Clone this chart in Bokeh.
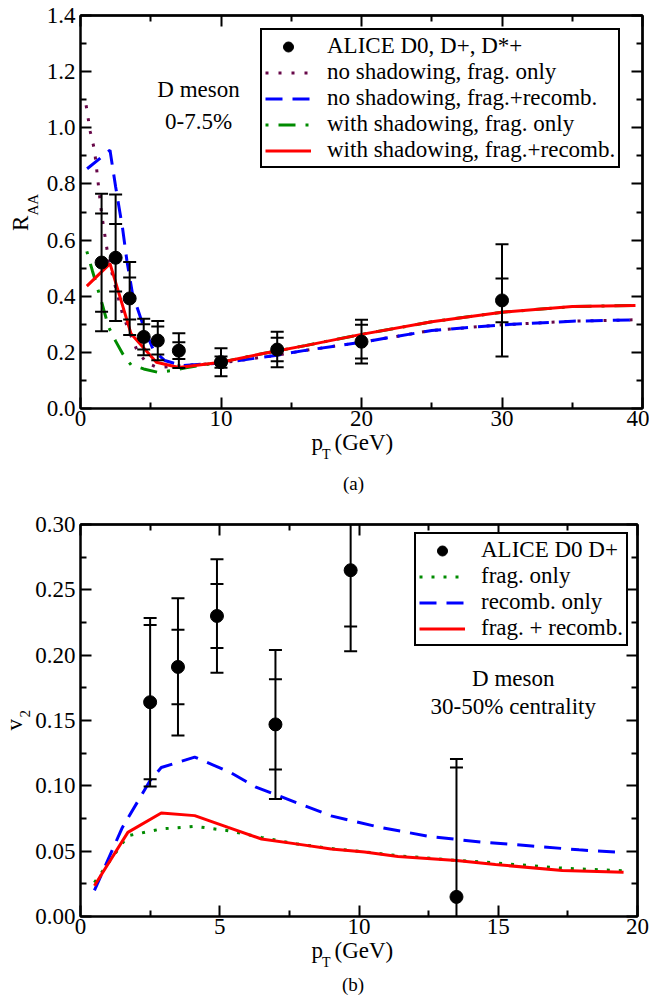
import numpy as np
from bokeh.plotting import figure
from bokeh.layouts import column
from bokeh.models import (Label, Legend, LegendItem, LinearAxis, FixedTicker, Title,
                          PrintfTickFormatter, Range1d)
from bokeh.embed import file_html
from bokeh.resources import INLINE

FONT = "Liberation Serif"

# ---------------- panel (a): R_AA ----------------
raa_pt = [1.5, 2.5, 3.5, 4.5, 5.5, 7.0, 10.0, 14.0, 20.0, 30.0]
raa = [0.52, 0.537, 0.392, 0.255, 0.242, 0.206, 0.165, 0.21, 0.238, 0.385]
raa_stat = [0.175, 0.12, 0.075, 0.045, 0.05, 0.03, 0.02, 0.042, 0.06, 0.078]
raa_tot = [0.245, 0.225, 0.13, 0.065, 0.07, 0.062, 0.05, 0.063, 0.078, 0.2]

noshad_frag_pt = [0.4, 0.7, 1.0, 1.5, 2.0, 2.5, 3.0, 3.5, 4.0, 4.7, 5.5, 7.0, 10, 14, 16, 20, 25, 30, 35, 39.5]
noshad_frag = [1.08, 0.985, 0.92, 0.694, 0.53, 0.43, 0.335, 0.27, 0.21, 0.162, 0.146, 0.152, 0.162, 0.19, 0.207, 0.236, 0.278, 0.298, 0.311, 0.316]

noshad_rec_pt = [0.47, 2.1, 2.5, 3.0, 3.3, 3.7, 4.5, 5.2, 6.0, 7.2, 10, 14, 16, 20, 25, 30, 35, 39.5]
noshad_rec = [0.854, 0.92, 0.79, 0.64, 0.527, 0.409, 0.29, 0.207, 0.171, 0.153, 0.162, 0.19, 0.207, 0.236, 0.278, 0.298, 0.311, 0.316]

shad_frag_pt = [0.45, 0.85, 1.5, 2.0, 2.5, 3.0, 3.6, 4.5, 5.5, 6.5, 7.5, 10, 13, 16, 20, 25, 30, 35, 39.5]
shad_frag = [0.56, 0.49, 0.38, 0.29, 0.24, 0.195, 0.155, 0.141, 0.129, 0.135, 0.145, 0.165, 0.196, 0.224, 0.264, 0.309, 0.343, 0.363, 0.367]

shad_rec_pt = [0.45, 2.1, 3.6, 5.4, 7.0, 10, 13, 16, 20, 25, 30, 35, 39.5]
shad_rec = [0.436, 0.516, 0.266, 0.165, 0.146, 0.165, 0.196, 0.224, 0.264, 0.309, 0.343, 0.363, 0.367]

a_xticks = [0, 10, 20, 30, 40]
a_xminor = [5, 15, 25, 35]
a_yticks = [0.0, 0.2, 0.4, 0.6, 0.8, 1.0, 1.2, 1.4]
a_yminor = [0.1, 0.3, 0.5, 0.7, 0.9, 1.1, 1.3]

# ---------------- panel (b): v2 ----------------
v2_pt = [2.5, 3.5, 4.9, 7.0, 9.7, 13.5]
v2 = [0.164, 0.191, 0.230, 0.147, 0.265, 0.015]
v2_stat = [0.059, 0.0285, 0.0245, 0.0345, 0.043, 0.099]
v2_tot = [0.0645, 0.0525, 0.0435, 0.057, 0.062, 0.1055]

frag_pt = [0.5, 1.7, 2.9, 4.1, 5.3, 6.5, 7.8, 9.0, 10.2, 11.4, 13.5, 14.9, 17.3, 19.5]
frag_v2 = [0.026, 0.0618, 0.067, 0.069, 0.0657, 0.0605, 0.0554, 0.052, 0.0495, 0.0465, 0.043, 0.041, 0.037, 0.035]

recomb_pt = [0.5, 1.5, 2.5, 2.9, 4.1, 5.4, 6.3, 7.1, 9.0, 10.8, 12.6, 14.4, 16.2, 17.9, 19.5]
recomb_v2 = [0.020, 0.068, 0.104, 0.114, 0.122, 0.110, 0.099, 0.0925, 0.077, 0.068, 0.061, 0.057, 0.054, 0.051, 0.049]

both_pt = [0.5, 1.7, 2.9, 4.1, 5.3, 6.5, 7.8, 9.0, 10.2, 11.4, 13.5, 14.9, 17.3, 19.5]
both_v2 = [0.0235, 0.0644, 0.0792, 0.0772, 0.0682, 0.0593, 0.0554, 0.0516, 0.0493, 0.046, 0.0429, 0.0398, 0.0352, 0.0339]

b_xticks = [0, 5, 10, 15, 20]
b_xminor = [2.5, 7.5, 12.5, 17.5]
b_yticks = [0.0, 0.05, 0.10, 0.15, 0.20, 0.25, 0.30]
b_yminor = [0.025, 0.075, 0.125, 0.175, 0.225, 0.275]

MAROON = "#670748"
GREEN = "#008b00"
BLUE = "#0000ff"
RED = "#ff0000"


def style_axis(ax, tick_len_major=11, tick_len_minor=6):
    ax.major_tick_in = tick_len_major
    ax.major_tick_out = 0
    ax.minor_tick_in = tick_len_minor
    ax.minor_tick_out = 0
    ax.axis_line_width = 2
    ax.axis_line_color = "black"
    ax.major_tick_line_width = 2
    ax.minor_tick_line_width = 2
    ax.major_tick_line_color = "black"
    ax.minor_tick_line_color = "black"
    ax.major_label_text_font = FONT
    ax.major_label_text_font_size = "23px"
    ax.major_label_text_color = "black"


def setup_axes(p, xt, xm, yt, ym, xfmt, yfmt):
    bottom = p.below[0]
    left = p.left[0]
    bottom.ticker = FixedTicker(ticks=xt, minor_ticks=xm)
    left.ticker = FixedTicker(ticks=yt, minor_ticks=ym)
    bottom.formatter = PrintfTickFormatter(format=xfmt)
    left.formatter = PrintfTickFormatter(format=yfmt)
    style_axis(bottom)
    style_axis(left)
    bottom.major_label_standoff = 2
    left.major_label_standoff = 5
    # mirror ticks (top / right) without labels
    for side, ticks in (("above", xt), ("right", yt)):
        ax = LinearAxis(ticker=FixedTicker(ticks=[], minor_ticks=ticks))
        style_axis(ax, 0, 11)
        ax.major_label_standoff = 0
        ax.axis_label_standoff = 0
        p.add_layout(ax, side)
    for side, ticks in (("above", xm), ("right", ym)):
        ax = LinearAxis(ticker=FixedTicker(ticks=[], minor_ticks=ticks))
        style_axis(ax, 0, 6)
        ax.major_label_standoff = 0
        ax.axis_label_standoff = 0
        p.add_layout(ax, side)
    p.xgrid.visible = False
    p.ygrid.visible = False
    p.outline_line_color = "black"
    p.outline_line_width = 2


def error_bars(p, x, y, stat, tot):
    x = np.array(x, dtype=float)
    y = np.array(y, dtype=float)
    stat = np.array(stat, dtype=float)
    tot = np.array(tot, dtype=float)
    p.segment(x0=x, y0=y - tot, x1=x, y1=y + tot, line_color="black", line_width=2)
    for yy in [y - tot, y + tot, y - stat, y + stat]:
        p.scatter(x=x, y=yy, marker="dash", size=13, line_color="black", line_width=2)
    return p.scatter(x=x, y=y, marker="circle", size=13, fill_color="black", line_color="black")


def text(p, x, y, s, size="23px"):
    p.add_layout(Label(x=x, y=y, text=s, text_font=FONT, text_font_size=size, text_color="black",
                       text_align="center", text_baseline="middle"))


def side_title(p, s, side, size, offset, standoff):
    p.add_layout(Title(text=s, text_font=FONT, text_font_size=size, text_font_style="normal",
                       text_color="black", align="left", vertical_align="bottom",
                       offset=offset, standoff=standoff), side)


def make_legend(p, items, loc):
    lg = Legend(items=items, location=loc, margin=0, padding=3, spacing=0,
                glyph_width=46, glyph_height=25, label_height=25, label_standoff=16,
                label_text_font=FONT, label_text_font_size="23px", label_text_color="black",
                border_line_color="black", border_line_width=2, border_line_alpha=1.0,
                background_fill_color="white", background_fill_alpha=1.0)
    p.add_layout(lg)


# ---------------- figure (a) ----------------
p1 = figure(frame_width=562, frame_height=393, min_border_left=75, min_border_right=12,
            min_border_top=15, min_border_bottom=103, x_range=Range1d(0, 40), y_range=Range1d(0, 1.4),
            output_backend="svg", toolbar_location=None, background_fill_color="white",
            border_fill_color="white")
setup_axes(p1, a_xticks, a_xminor, a_yticks, a_yminor, "%d", "%.1f")

r_a1 = p1.line(noshad_frag_pt, noshad_frag, line_color=MAROON, line_width=3, line_dash="3 10")
r_a2 = p1.line(noshad_rec_pt, noshad_rec, line_color=BLUE, line_width=3, line_dash="17 10")
r_a3 = p1.line(shad_frag_pt, shad_frag, line_color=GREEN, line_width=3, line_dash="3 10 17 10")
r_a4 = p1.line(shad_rec_pt, shad_rec, line_color=RED, line_width=3)
pts1 = error_bars(p1, raa_pt, raa, raa_stat, raa_tot)

make_legend(p1, [
    LegendItem(label="ALICE D0, D+, D*+", renderers=[pts1]),
    LegendItem(label="no shadowing, frag. only", renderers=[r_a1]),
    LegendItem(label="no shadowing, frag.+recomb.", renderers=[r_a2]),
    LegendItem(label="with shadowing, frag. only", renderers=[r_a3]),
    LegendItem(label="with shadowing, frag.+recomb.", renderers=[r_a4]),
], (180, 240))

text(p1, 8.4, 1.136, "D meson")
text(p1, 8.4, 1.022, "0-7.5%")
# y label R_AA (subscript closer to the frame)
side_title(p1, "AA", "left", "15px", 193, 5.6)
side_title(p1, "R", "left", "23px", 177.5, -26.4)
# x label p_T (GeV) and caption
side_title(p1, "p\u00a0\u00a0(GeV)", "below", "23px", 231, -2)
side_title(p1, "T", "below", "14px", 241.5, -17.5)
side_title(p1, "(a)", "below", "19px", 262.5, 34)

# ---------------- figure (b) ----------------
p2 = figure(frame_width=557, frame_height=392, min_border_left=80, min_border_right=12,
            min_border_top=13, min_border_bottom=90, x_range=Range1d(0, 20), y_range=Range1d(0, 0.30),
            output_backend="svg", toolbar_location=None, background_fill_color="white",
            border_fill_color="white")
setup_axes(p2, b_xticks, b_xminor, b_yticks, b_yminor, "%d", "%.2f")

r_b1 = p2.line(frag_pt, frag_v2, line_color=GREEN, line_width=3, line_dash="3 9")
r_b2 = p2.line(recomb_pt, recomb_v2, line_color=BLUE, line_width=3, line_dash="17 10")
r_b3 = p2.line(both_pt, both_v2, line_color=RED, line_width=3)
pts2 = error_bars(p2, v2_pt, v2, v2_stat, v2_tot)

make_legend(p2, [
    LegendItem(label="ALICE D0 D+", renderers=[pts2]),
    LegendItem(label="frag. only", renderers=[r_b1]),
    LegendItem(label="recomb. only", renderers=[r_b2]),
    LegendItem(label="frag. + recomb.", renderers=[r_b3]),
], (334, 270))

text(p2, 15.54, 0.1823, "D meson")
text(p2, 15.54, 0.1609, "30-50% centrality")
side_title(p2, "2", "left", "15px", 199, 5.6)
side_title(p2, "v", "left", "23px", 186, -24.4)
side_title(p2, "p\u00a0\u00a0(GeV)", "below", "23px", 231, -2)
side_title(p2, "T", "below", "14px", 241.5, -17.5)
side_title(p2, "(b)", "below", "19px", 261.5, 21)

layout = column(p1, p2, spacing=0)
open("out.html", "w").write(file_html(layout, INLINE))
